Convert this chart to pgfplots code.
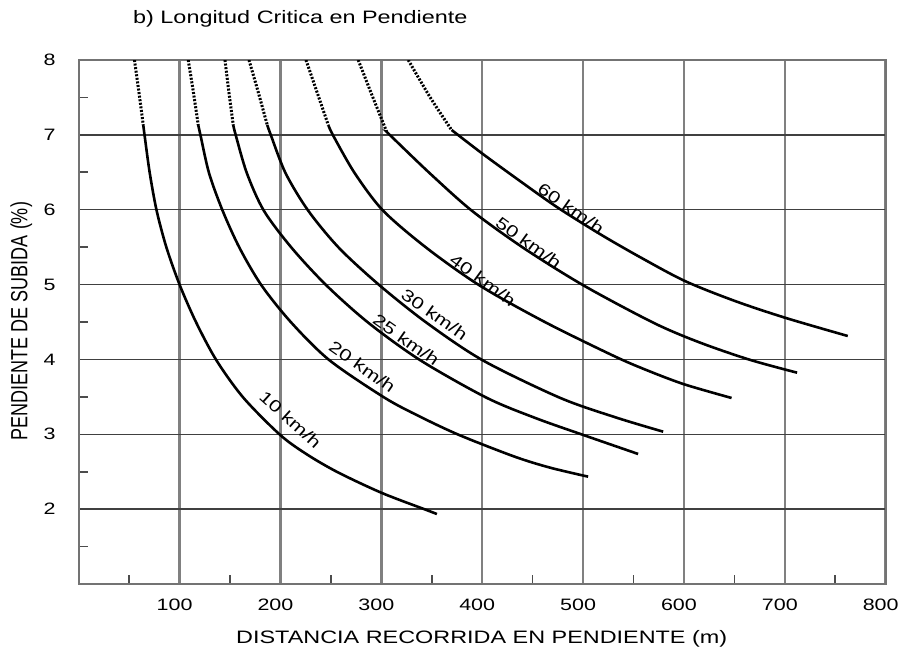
\documentclass[border=0pt]{standalone}
\usepackage{fontspec}
\setmainfont{Liberation Sans}[FakeStretch=1.3]
\newfontfamily\plainsans{Liberation Sans}
\usepackage{pgfplots}
\pgfplotsset{compat=1.18}
\tikzset{
  solidc/.style={black, line width=2.6pt, smooth, tension=0.5},
  dotc/.style={black, line width=3pt, dash pattern=on 2pt off 1.6pt, smooth},
  lbl/.style={font=\fontsize{16.5}{19}\selectfont, inner sep=0pt},
}
\begin{document}
\begin{tikzpicture}
\useasboundingbox (-78.7pt,-65pt) rectangle (827.3pt,584pt);
\begin{axis}[
  at={(0pt,0pt)}, anchor=south west,
  scale only axis, width=807pt, height=524pt,
  xmin=0, xmax=800, ymin=1, ymax=8,
  xtick={100,200,300,400,500,600,700,800},
  xticklabels={100,200,300,400,500,600,700,800},
  ytick={2,3,4,5,6,7,8},
  yticklabels={2,3,4,5,6,7,8},
  minor xtick={50,150,250,350,450,550,650,750},
  minor ytick={1.5,2.5,3.5,4.5,5.5,6.5,7.5},
  tick pos=left, tick align=inside,
  major tick length=0pt, minor tick length=9pt,
  minor tick style={black!70, line width=1.6pt},
  grid=major,
  major x grid style={black!50, line width=2.5pt},
  major y grid style={black!75, line width=1.5pt},
  axis line style={black!55, line width=2pt},
  ticklabel style={font=\fontsize{16.5}{19}\selectfont},
  xticklabel style={anchor=base, inner sep=0pt, yshift=-26pt, xshift=-5pt},
  yticklabel style={anchor=east, inner sep=0pt, xshift=-23pt},
]
% 10 km/h
\addplot[dotc] coordinates {(55.3,8.0) (59.8,7.56) (64.0,7.132)};
\addplot[solidc] coordinates {(64.0,7.132) (65.4,6.985) (70.5,6.485) (77.3,5.986) (87.2,5.486) (100.4,4.986) (116.7,4.487) (136.6,3.987) (163.3,3.488) (200.0,2.988) (227.2,2.723) (257.5,2.488) (300.6,2.216) (344.7,1.989) (355.1,1.935)};
% 20 km/h
\addplot[dotc] coordinates {(108.6,8.0) (113.8,7.56) (118.5,7.132)};
\addplot[solidc] coordinates {(118.5,7.132) (120.9,6.985) (129.3,6.485) (142.7,5.986) (159.6,5.486) (181.4,4.986) (211.1,4.487) (248.8,3.987) (303.3,3.488) (338.3,3.236) (377.6,2.988) (432.4,2.700) (467.1,2.555) (505.0,2.434)};
% 25 km/h
\addplot[dotc] coordinates {(145.0,8.0) (149.0,7.56) (153.2,7.132)};
\addplot[solidc] coordinates {(153.2,7.132) (155.9,6.985) (166.8,6.485) (183.6,5.986) (211.4,5.486) (245.8,4.986) (287.4,4.487) (338.9,3.987) (404.4,3.488) (453.2,3.215) (500.8,2.988) (554.6,2.737)};
% 30 km/h
\addplot[dotc] coordinates {(168.8,8.0) (178.2,7.56) (186.9,7.132)};
\addplot[solidc] coordinates {(186.9,7.132) (190.8,6.985) (205.2,6.485) (227.6,5.986) (258.3,5.486) (298.6,4.986) (345.2,4.487) (400.7,3.987) (477.0,3.488) (532.5,3.225) (579.4,3.035)};
% 40 km/h
\addplot[dotc] coordinates {(225.3,8.0) (236.2,7.573) (247.4,7.132)};
\addplot[solidc] coordinates {(247.4,7.132) (252.5,6.985) (273.8,6.485) (301.9,5.986) (345.2,5.486) (397.7,4.986) (462.1,4.500) (531.5,4.040) (566.2,3.840) (600.9,3.665) (647.2,3.485)};
% 50 km/h
\addplot[dotc] coordinates {(277.1,8.0) (290.7,7.532) (305.3,7.042)};
\addplot[solidc] coordinates {(305.3,7.042) (309.5,6.985) (348.2,6.485) (389.8,5.986) (441.3,5.486) (500.8,4.986) (570.2,4.487) (615.7,4.226) (665.4,3.995) (712.2,3.823)};
% 60 km/h
\addplot[dotc] coordinates {(326.7,8.0) (348.2,7.506) (369.7,7.065)};
\addplot[solidc] coordinates {(369.7,7.065) (400.7,6.744) (437.4,6.384) (474.0,6.036) (516.6,5.676) (556.3,5.368) (600.9,5.048) (650.5,4.781) (701.0,4.554) (762.4,4.313)};
% labels
\node[lbl, rotate=-42] at (axis cs:209.9,3.20) {10 km/h};
\node[lbl, rotate=-35] at (axis cs:281.2,3.90) {20 km/h};
\node[lbl, rotate=-35] at (axis cs:324.7,4.26) {25 km/h};
\node[lbl, rotate=-35] at (axis cs:352.8,4.60) {30 km/h};
\node[lbl, rotate=-36] at (axis cs:400.6,5.06) {40 km/h};
\node[lbl, rotate=-36] at (axis cs:446.1,5.56) {50 km/h};
\node[lbl, rotate=-35] at (axis cs:488.1,6.02) {60 km/h};
\end{axis}
\node[anchor=base west, inner sep=0pt, font=\fontsize{18}{21}\selectfont] at (54.3pt,560pt) {b) Longitud Critica en Pendiente};
\node[anchor=base, inner sep=0pt, font=\fontsize{18}{21}\selectfont] at (403pt,-59pt) {DISTANCIA RECORRIDA EN PENDIENTE (m)};
\node[rotate=90, inner sep=0pt] at (-57.5pt,263pt) {\scalebox{1}[1.3]{\fontsize{18}{21}\plainsans PENDIENTE DE SUBIDA (\%)}};
\end{tikzpicture}
\end{document}
